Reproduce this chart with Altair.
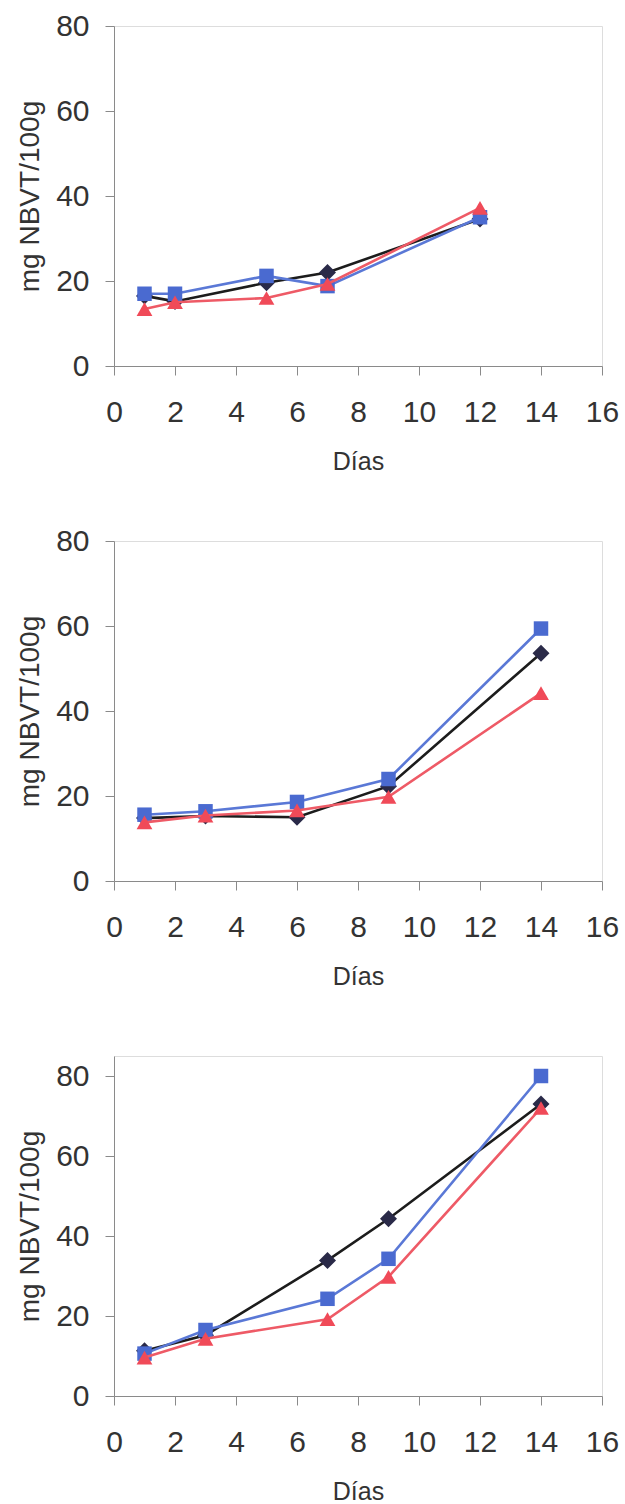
import altair as alt
import pandas as pd

# ---- data ----
series_names = ["Negro", "Azul", "Rojo"]

p1_days = [1, 2, 5, 7, 12]
p1_black = [16.5, 15.2, 19.6, 22.0, 34.6]
p1_blue = [17.0, 17.0, 21.2, 18.8, 35.0]
p1_red = [13.4, 15.0, 16.0, 19.3, 37.2]

p2_days = [1, 3, 6, 9, 14]
p2_black = [14.8, 15.3, 15.0, 22.3, 53.6]
p2_blue = [15.6, 16.4, 18.6, 24.0, 59.4]
p2_red = [13.8, 15.4, 16.6, 19.8, 44.2]

p3_days = [1, 3, 7, 9, 14]
p3_black = [11.3, 15.2, 33.9, 44.3, 73.0]
p3_blue = [10.6, 16.5, 24.3, 34.3, 80.0]
p3_red = [9.6, 14.3, 19.2, 29.8, 72.0]

x_ticks = [0, 2, 4, 6, 8, 10, 12, 14, 16]
y_ticks = [0, 20, 40, 60, 80]

line_colors = ["#1c1c1c", "#5a78d6", "#ee5a66"]
marker_colors = ["#2a2a48", "#4a6ad0", "#f04a58"]
marker_shapes = ["diamond", "square", "triangle-up"]
marker_sizes = [290, 210, 250]

FONT = "Liberation Sans"


def make_df(days, black, blue, red):
    rows = []
    for name, vals in zip(series_names, [black, blue, red]):
        for d, v in zip(days, vals):
            rows.append({"dia": d, "valor": v, "serie": name})
    return pd.DataFrame(rows)


def panel(days, black, blue, red, ymax):
    df = make_df(days, black, blue, red)
    x = alt.X(
        "dia:Q",
        scale=alt.Scale(domain=[0, 16], nice=False, zero=False),
        axis=alt.Axis(
            values=x_ticks, title="Días", grid=False, labelFlush=False,
            labelFontSize=30, titleFontSize=25, titleFontWeight="normal",
            labelColor="#333333", titleColor="#333333",
            domainColor="#8a8a8a", tickColor="#8a8a8a", tickSize=9,
            labelPadding=22, titlePadding=22, labelFont=FONT, titleFont=FONT,
        ),
    )
    y = alt.Y(
        "valor:Q",
        scale=alt.Scale(domain=[0, ymax], nice=False),
        axis=alt.Axis(
            values=y_ticks, title="mg NBVT/100g", grid=False, labelFlush=False,
            labelFontSize=30, titleFontSize=28, titleFontWeight="normal",
            labelColor="#333333", titleColor="#333333",
            domainColor="#8a8a8a", tickColor="#8a8a8a", tickSize=9,
            labelPadding=16, titlePadding=11, labelFont=FONT, titleFont=FONT,
        ),
    )
    layers = []
    for i, name in enumerate(series_names):
        sub = df[df["serie"] == name]
        base = alt.Chart(sub)
        ln = base.mark_line(strokeWidth=2.6, color=line_colors[i]).encode(x=x, y=y)
        pt = base.mark_point(
            filled=True, opacity=1, shape=marker_shapes[i], size=marker_sizes[i],
            color=marker_colors[i],
        ).encode(x=x, y=y)
        layers += [ln, pt]
    return alt.layer(*layers).properties(width=488, height=340)


c1 = panel(p1_days, p1_black, p1_blue, p1_red, 80)
c2 = panel(p2_days, p2_black, p2_blue, p2_red, 80)
c3 = panel(p3_days, p3_black, p3_blue, p3_red, 85)

chart = (
    alt.vconcat(c1, c2, c3, spacing=175, bounds="flush")
    .properties(padding={"left": 16, "top": 10, "right": 5, "bottom": 5})
    .configure_view(stroke="#b0b0b0", strokeWidth=1.2)
    .configure(font=FONT, background="white")
)

chart.save("out.html", embed_options={"renderer": "svg", "actions": False})
